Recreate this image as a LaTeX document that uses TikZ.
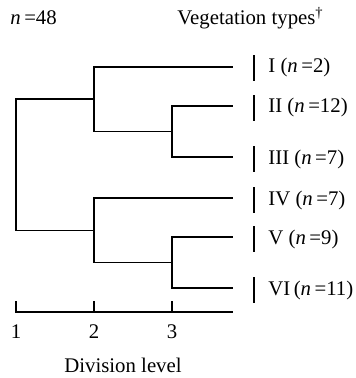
\documentclass[tikz,border=0pt]{standalone}
\usepackage{fontspec}
\setmainfont{Liberation Serif}
\usetikzlibrary{positioning}

\begin{document}
\begin{tikzpicture}[
						x=0.5pt, y=-0.5pt,
						every node/.style={font=\fontsize{10.4}{12.4}\selectfont, inner sep=0pt},
						branch/.style={line width=0.8pt},
						bar/.style={line width=1pt},
						line cap=rect,
						line join=miter
						]
						
						\useasboundingbox (0,0) rectangle (355,378);
						
						\node[anchor=west] (total) at (10,18) {\textit{n}\,=48};
						\node[anchor=west] (vtypes) at (177,18) {Vegetation types\textsuperscript{\textdagger}};
						
						% leaves and joins
						\coordinate (leafI) at (232,67);
						\coordinate (leafII) at (232,106);
						\coordinate (leafIII) at (232,157);
						\coordinate (leafIV) at (232,198);
						\coordinate (leafV) at (232,237);
						\coordinate (leafVI) at (232,288);
						\coordinate (joinA) at (94,99);
						\coordinate (joinC) at (172,131.5);
						\coordinate (joinB) at (94,230.5);
						\coordinate (joinD) at (172,262.5);
						\coordinate (root) at (16,165);
						
						\draw[branch] (leafII) -| (joinC) |- (leafIII);
						\draw[branch] (leafI) -| (joinA) |- (joinC);
						\draw[branch] (leafV) -| (joinD) |- (leafVI);
						\draw[branch] (leafIV) -| (joinB) |- (joinD);
						\draw[branch] (joinA) -| (root) |- (joinB);
						
						\node[anchor=west] (lblI) at (268,68) {I (\textit{n}\,=2)};
						\node[anchor=west] (lblII) at (268,108) {II (\textit{n}\,=12)};
						\node[anchor=west] (lblIII) at (268,159) {III (\textit{n}\,=7)};
						\node[anchor=west] (lblIV) at (268,200) {IV (\textit{n}\,=7)};
						\node[anchor=west] (lblV) at (268,239) {V (\textit{n}\,=9)};
						\node[anchor=west] (lblVI) at (268,290) {VI\,(\textit{n}\,=11)};
						
						\foreach \v in {I,II,III,IV,V,VI}
							\draw[bar] ([xshift=-7pt]lbl\v.west) ++(0,-12) -- ++(0,24);
						
						% division axis
						\coordinate (tick1) at (16,312);
						\coordinate (tick2) at (94,312);
						\coordinate (tick3) at (172,312);
						\coordinate (axisend) at (232,312);
						\draw[branch] (tick1) -- (axisend);
						\foreach \t in {tick1,tick2,tick3}
							\draw[branch] (\t) -- ++(0,-10);
						
						\node (lvl1) at (16,332) {1};
						\node (lvl2) at (94,332) {2};
						\node (lvl3) at (172,332) {3};
						\node (divlabel) at (123,365) {Division level};
						
					\end{tikzpicture}
\end{document}
